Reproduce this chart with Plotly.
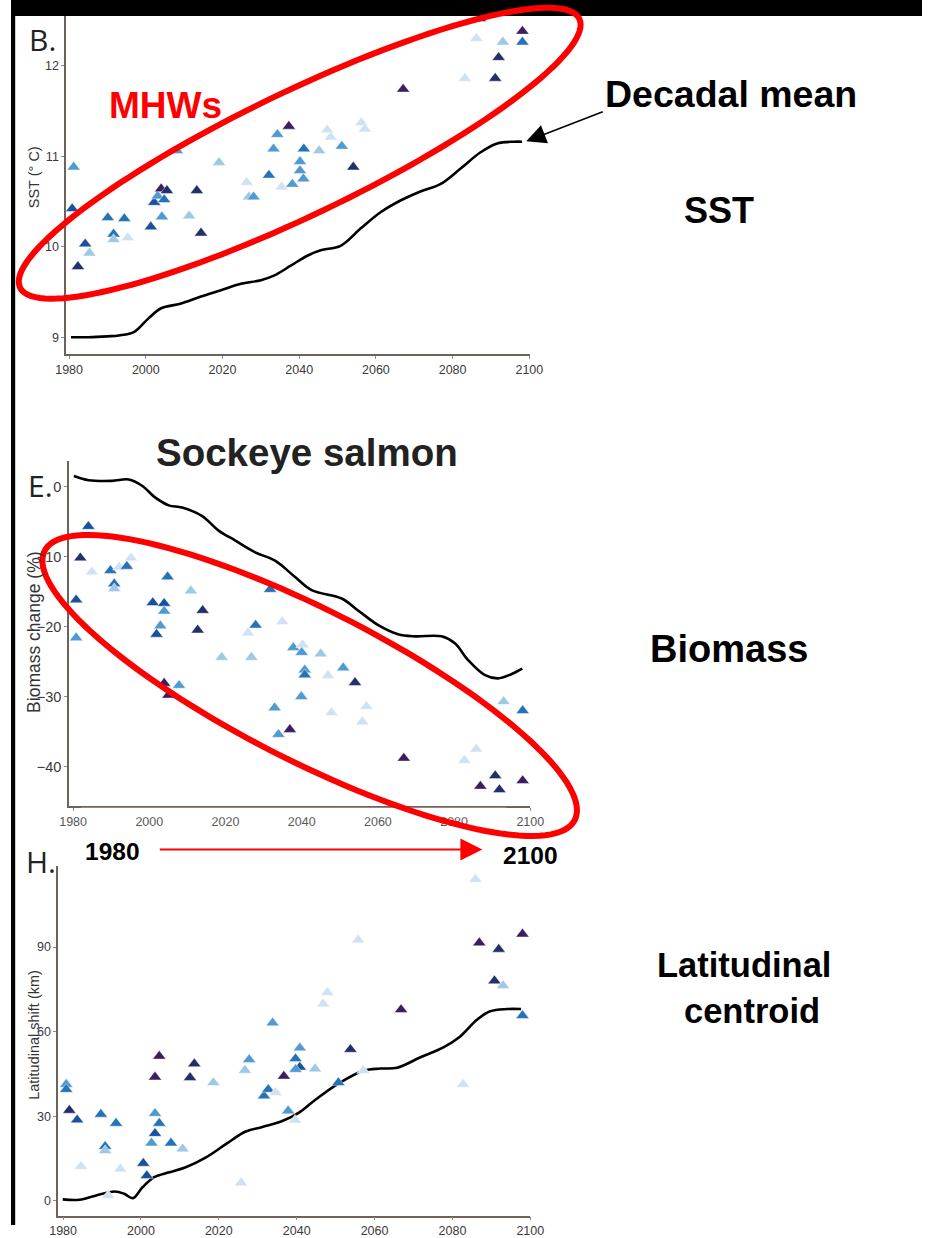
import numpy as np
import plotly.graph_objects as go

W, H = 936, 1238

# ---------------- data ----------------
# Panel B: SST (deg C)
B_year = [1981.2, 1980.8, 1982.3, 1984.2, 1985.3, 1990.1, 1991.6, 1991.6, 1994.4, 1995.3,
          2001.3, 2002.2, 2003.1, 2004.2, 2004.8, 2004.0, 2005.5, 2008.1, 2011.3, 2013.3,
          2014.4, 2019.1, 2026.3, 2026.9, 2028.1, 2032.1, 2033.3, 2034.3, 2035.4, 2037.3,
          2038.2, 2040.2, 2040.2, 2041.1, 2041.2, 2045.2, 2047.3, 2048.2, 2051.1, 2054.1,
          2056.2, 2057.1, 2067.1, 2083.2, 2086.2, 2087.1, 2091.1, 2092.0, 2093.1, 2098.2,
          2098.2]
B_sst = [10.88, 10.42, 9.78, 10.03, 9.93, 10.32, 10.14, 10.08, 10.31, 10.10,
         10.22, 10.49, 10.56, 10.33, 10.52, 10.64, 10.62, 11.06, 10.34, 10.62,
         10.15, 10.93, 10.71, 10.55, 10.55, 10.79, 11.08, 11.24, 10.66, 11.33,
         10.69, 10.94, 10.84, 10.75, 11.08, 11.06, 11.29, 11.21, 11.11, 10.88,
         11.37, 11.30, 11.74, 11.86, 12.30, 12.52, 11.86, 12.09, 12.26, 12.38,
         12.26]
B_grp = [3, 5, 6, 5, 2, 4, 4, 2, 4, 1,
         5, 5, 3, 3, 4, 7, 6, 3, 2, 6,
         6, 2, 1, 2, 3, 4, 3, 3, 1, 7,
         3, 3, 3, 3, 4, 2, 1, 1, 3, 6,
         1, 1, 7, 1, 1, 7, 6, 6, 2, 7,
         4]
B_line_year = [1980.5, 1985, 1990, 1993, 1997, 2000.5, 2004, 2009, 2014.4, 2019.6, 2024.8,
               2030, 2033.4, 2037.8, 2042.1, 2045.6, 2050.8, 2056, 2061.2, 2066.4, 2071.6,
               2076.8, 2082, 2087.2, 2091.6, 2095.9, 2098.1]
B_line = [9.0, 9.0, 9.01, 9.02, 9.06, 9.2, 9.32, 9.37, 9.45, 9.52, 9.59,
          9.63, 9.68, 9.79, 9.90, 9.96, 10.01, 10.2, 10.38, 10.51, 10.61,
          10.69, 10.86, 11.04, 11.14, 11.16, 11.16]

# Panel E: Biomass change (%)
E_year = [1984.0, 1981.9, 1984.9, 1980.8, 1980.8, 1989.8, 1990.8, 1990.8, 1992.1, 1994.1,
          1995.2, 2000.9, 2003.9, 2003.9, 2004.8, 2002.9, 2001.9, 2010.9, 2014.0, 2012.7,
          2003.9, 2005.0, 2007.8, 2019.0, 2026.8, 2025.9, 2027.9, 2031.7, 2034.9, 2037.8,
          2040.2, 2040.0, 2045.0, 2040.8, 2040.8, 2039.9, 2032.9, 2033.9, 2036.9, 2046.9,
          2050.9, 2054.0, 2047.8, 2057.0, 2055.9, 2066.8, 2082.7, 2085.8, 2086.9, 2090.8,
          2091.9, 2098.0, 2093.0, 2098.0]
E_bio = [-5.7, -10.2, -12.2, -16.2, -21.6, -12.0, -13.9, -14.6, -11.5, -11.4,
         -10.2, -16.6, -16.7, -17.8, -12.9, -19.9, -21.1, -14.9, -17.7, -20.5,
         -28.1, -29.8, -28.4, -24.4, -24.4, -20.9, -19.8, -14.7, -19.3, -23.0,
         -22.6, -23.7, -23.9, -26.2, -26.9, -30.0, -31.6, -35.4, -34.7, -27.0,
         -25.9, -28.0, -32.3, -31.4, -33.6, -38.8, -39.1, -37.5, -42.8, -41.3,
         -43.3, -42.0, -30.7, -32.0]
E_grp = [5, 6, 1, 5, 3, 4, 4, 2, 1, 4,
         1, 5, 5, 3, 4, 3, 5, 2, 6, 6,
         7, 7, 3, 2, 2, 1, 4, 4, 1, 3,
         1, 3, 2, 3, 4, 3, 3, 3, 7, 1,
         3, 6, 1, 1, 1, 7, 1, 1, 7, 6,
         6, 7, 2, 4]
E_line_year = [1980.2, 1984.1, 1990.2, 1994.6, 1998.1, 2001.6, 2005.1, 2008.6, 2013.8, 2018.2,
               2022.5, 2027.8, 2033, 2038.2, 2042.6, 2050.5, 2054.8, 2060.1, 2065.3, 2069.7,
               2076.7, 2080.2, 2083.7, 2088, 2091.5, 2095, 2097.9]
E_line = [1.5, 0.9, 0.8, 1.0, 0.1, -1.6, -2.7, -3.0, -4.2, -6.3,
          -7.7, -9.4, -10.6, -12.9, -14.8, -16.0, -17.7, -19.8, -21.1, -21.4,
          -21.4, -22.4, -24.8, -26.9, -27.4, -26.8, -26.0]

# Panel H: Latitudinal shift (km)
H_year = [1980.8, 1980.8, 1981.6, 1983.6, 1984.6, 1989.7, 1990.8, 1990.8, 1991.6, 1993.6,
          1994.7, 2000.6, 2001.5, 2003.6, 2004.7, 2003.6, 2002.7, 2003.6, 2004.7, 2007.7,
          2010.7, 2012.6, 2013.7, 2018.6, 2025.7, 2026.7, 2027.8, 2031.6, 2032.7, 2034.6,
          2033.8, 2036.7, 2037.8, 2039.6, 2040.8, 2039.7, 2040.8, 2039.7, 2044.7, 2047.9,
          2046.8, 2050.7, 2053.8, 2055.8, 2057.1, 2066.8, 2082.7, 2085.9, 2086.9, 2091.9,
          2090.8, 2093.0, 2098.0, 2098.0]
H_shift = [41.3, 39.5, 32.1, 28.7, 12.2, 30.7, 19.3, 17.8, 1.9, 27.5,
           11.3, 13.3, 8.9, 31.0, 27.5, 23.9, 20.5, 43.9, 51.3, 20.5,
           18.4, 43.7, 48.6, 41.9, 6.4, 46.3, 50.1, 37.2, 39.5, 38.4,
           63.1, 44.2, 31.9, 28.6, 54.2, 50.4, 47.4, 46.6, 46.8, 73.9,
           69.8, 41.9, 53.7, 92.5, 46.2, 67.8, 41.3, 114.0, 91.5, 89.2,
           78.0, 76.3, 94.6, 65.7]
H_grp = [3, 4, 6, 5, 1, 4, 4, 2, 1, 4,
         1, 5, 5, 3, 4, 5, 3, 7, 7, 4,
         2, 6, 6, 2, 1, 2, 3, 4, 4, 1,
         3, 7, 3, 1, 3, 4, 5, 3, 2, 1,
         1, 4, 6, 1, 1, 7, 1, 1, 7, 6,
         6, 2, 7, 4]
H_line_year = [1979.9, 1984.2, 1988.5, 1993.2, 1995.7, 1997.9, 2000.4, 2003.4, 2007.3, 2011.5,
               2016.7, 2021.8, 2026.9, 2031.2, 2036.3, 2040.6, 2044.4, 2050.4, 2057.3, 2061.5,
               2065.8, 2071.8, 2077.8, 2082, 2086.3, 2089.7, 2094, 2097.6]
H_line = [0.5, 0.35, 1.9, 3.3, 2.5, 0.95, 4.8, 8.4, 10.1, 11.9,
          15.4, 20.1, 24.6, 26.2, 28.3, 31.3, 35.4, 41.3, 46.2, 46.9,
          47.2, 50.9, 54.5, 58.3, 64.2, 67.2, 68.0, 68.0]

year_ticks = [1980, 2000, 2020, 2040, 2060, 2080, 2100]
B_ticks = [9, 10, 11, 12]
E_ticks = [0, -10, -20, -30, -40]
H_ticks = [0, 30, 60, 90]

# ---------------- styles ----------------
palette = {1: "#cfe2f3", 2: "#9dc9e5", 3: "#4f9bd1", 4: "#2473b9",
           5: "#1b509d", 6: "#222f6a", 7: "#3d1c5f"}

# the photographed page comes out slightly scaled/offset; place things so
# that they land on the intended pixel positions
SX, OX, SY = 0.975, 9.8, 0.9946


def X(p):
    return min(1.0, max(0.0, ((p - OX) / SX) / W))


def Y(p):
    return min(1.0, max(0.0, 1 - (p / SY) / H))


fig = go.Figure()

panels = [
    ("x", "y", B_year, B_sst, B_grp, B_line_year, B_line),
    ("x2", "y2", E_year, E_bio, E_grp, E_line_year, E_line),
    ("x3", "y3", H_year, H_shift, H_grp, H_line_year, H_line),
]
for xa, ya, yr, val, grp, lyr, lval in panels:
    fig.add_trace(go.Scatter(
        x=lyr, y=lval, xaxis=xa, yaxis=ya, mode="lines",
        line=dict(color="black", width=2.6, shape="spline", smoothing=1.0),
        hoverinfo="skip", showlegend=False))
    fig.add_trace(go.Scatter(
        x=yr, y=val, xaxis=xa, yaxis=ya, mode="markers",
        marker=dict(symbol="triangle-up", size=11.5,
                    color=[palette[g] for g in grp],
                    line=dict(color="rgba(255,255,255,0.7)", width=0.6)),
        showlegend=False))

axis_common = dict(showgrid=False, zeroline=False, showline=True,
                   linecolor="#6f625b", linewidth=1.5, ticks="outside",
                   ticklen=3, tickcolor="#8a8a8a", mirror=False)
tf = dict(size=12.5, color="#3a3a3a")

fig.update_layout(
    width=W, height=H, autosize=False, margin=dict(l=0, r=0, t=0, b=0, pad=0),
    paper_bgcolor="white", plot_bgcolor="white",
    font=dict(family="Liberation Sans, Arial, sans-serif", color="#333333"),
    xaxis=dict(domain=[X(65), X(530)], range=[1979.22, 2100.25], anchor="y",
               tickvals=year_ticks, tickfont=tf, **axis_common),
    yaxis=dict(domain=[Y(356), Y(16)], range=[8.813, 12.549], anchor="x",
               tickvals=B_ticks, tickfont=tf, **axis_common),
    xaxis2=dict(domain=[X(68), X(530)], range=[1978.95, 2100.0], anchor="y2",
                tickvals=year_ticks, tickfont=dict(size=12.5, color="#555555"), **axis_common),
    yaxis2=dict(domain=[Y(810), Y(463)], range=[-45.6, 3.69], anchor="x2",
                tickvals=E_ticks, tickfont=dict(size=14.5, color="#3a3a3a"), **axis_common),
    xaxis3=dict(domain=[X(57), X(530)], range=[1978.72, 2100.0], anchor="y3",
                tickvals=year_ticks, tickfont=tf, **axis_common),
    yaxis3=dict(domain=[Y(1222), Y(870)], range=[-5.29, 118.9], anchor="x3",
                tickvals=H_ticks, tickfont=tf, **axis_common),
)


def ellipse_path(cx, cy, a, b, ang_deg, down=False):
    th = np.radians(ang_deg)
    if down:
        u = np.array([np.cos(th), np.sin(th)])
        v = np.array([-np.sin(th), np.cos(th)])
    else:
        u = np.array([np.cos(th), -np.sin(th)])
        v = np.array([np.sin(th), np.cos(th)])
    t = np.linspace(0, 2 * np.pi, 140)
    xs = cx + a * np.cos(t) * u[0] + b * np.sin(t) * v[0]
    ys = cy + a * np.cos(t) * u[1] + b * np.sin(t) * v[1]
    pts = [f"{((x - OX) / SX) / W:.5f},{1 - (y / SY) / H:.5f}" for x, y in zip(xs, ys)]
    return "M " + " L ".join(pts) + " Z"


shapes = [
    # white strip hiding the upper half of panel E's year labels (as in the source)
    dict(type="rect", xref="paper", yref="paper", x0=X(80), x1=X(506), y0=Y(821.5), y1=Y(812),
         fillcolor="white", line=dict(width=0), layer="above"),
    dict(type="rect", xref="paper", yref="paper", x0=0, x1=X(14), y0=0, y1=1,
         fillcolor="black", line=dict(width=0), layer="above"),
    dict(type="rect", xref="paper", yref="paper", x0=0, x1=1, y0=Y(16), y1=1,
         fillcolor="black", line=dict(width=0), layer="above"),
    dict(type="path", xref="paper", yref="paper",
         path=ellipse_path(299, 154, 311, 62, 25.75),
         line=dict(color="#ff0000", width=6), layer="above"),
    dict(type="path", xref="paper", yref="paper",
         path=ellipse_path(309, 689, 298, 76, 27.0, down=True),
         line=dict(color="#ff0000", width=6), layer="above"),
]
fig.update_layout(shapes=shapes)

ann = []


def txt(x, y, s, size, color="black", bold=True, angle=0, family="Liberation Sans, Arial, sans-serif"):
    ann.append(dict(xref="paper", yref="paper", x=X(x), y=Y(y), text=(f"<b>{s}</b>" if bold else s),
                    showarrow=False, xanchor="center", yanchor="middle", textangle=angle,
                    font=dict(size=size, color=color, family=family)))


txt(41, 40, "B.", 30, "#222222", bold=False, family="Open Sans, Liberation Sans, sans-serif")
txt(39, 488, "E.", 30, "#222222", bold=False, family="Open Sans, Liberation Sans, sans-serif")
txt(40, 866, "H.", 30, "#222222", bold=False, family="Open Sans, Liberation Sans, sans-serif")
txt(33, 178, "SST (° C)", 14.5, "#333333", bold=False, angle=-90)
txt(33, 636, "Biomass change (%)", 17.5, "#333333", bold=False, angle=-90)
txt(33, 1040, "Latitudinal shift (km)", 14.5, "#333333", bold=False, angle=-90)
txt(165, 106, "MHWs", 37, "#ff0000")
txt(731, 94, "Decadal mean", 37.5)
txt(719, 212, "SST", 36)
txt(306, 455, "Sockeye salmon", 38.5, "#222222")
txt(729, 652, "Biomass", 38)
txt(744, 970, "Latitudinal", 34.5)
txt(752, 1016, "centroid", 34.5)
txt(111, 856, "1980", 24.5)
txt(530, 860, "2100", 24.5)

# arrows (offsets in figure pixels)
ann.append(dict(xref="paper", yref="paper", x=X(482), y=Y(854), ax=-(482 - 166) / SX, ay=0, text="",
                showarrow=True, arrowhead=2, arrowsize=2.2, arrowwidth=2, arrowcolor="#ff0000"))
ann.append(dict(xref="paper", yref="paper", x=X(526), y=Y(142), ax=(602 - 526) / SX,
                ay=-(142 - 112) / SY, text="",
                showarrow=True, arrowhead=2, arrowsize=2.6, arrowwidth=1.5, arrowcolor="black"))
fig.update_layout(annotations=ann)

fig.write_html("out.html")
